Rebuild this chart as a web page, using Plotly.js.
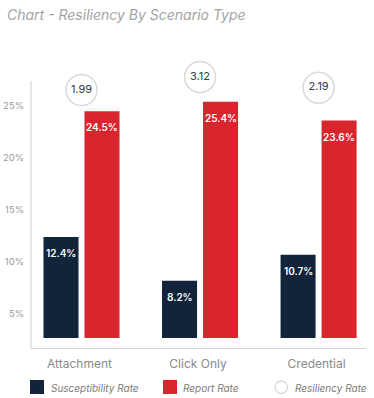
<!DOCTYPE html>
<html>
<head>
<meta charset="utf-8">
<script src="https://cdn.plot.ly/plotly-3.0.1.min.js"></script>
<style>
html,body{margin:0;padding:0;background:#fff;}
#chart{width:374px;height:398px;}
</style>
</head>
<body>
<div id="chart"></div>
<script>
var categories = ['Attachment', 'Click Only', 'Credential'];
var susceptibilityRate = [12.4, 8.2, 10.7];
var reportRate = [24.5, 25.4, 23.6];
var resiliencyRate = [1.99, 3.12, 2.19];
var yTickVals = [5, 10, 15, 20, 25];
var yTickText = ['5%', '10%', '15%', '20%', '25%'];
var seriesNames = ['Susceptibility Rate', 'Report Rate', 'Resiliency Rate'];

var NAVY = '#11243a', RED = '#d9262e', FONT = 'Inter, "Noto Sans", sans-serif';
var W = 374, H = 398, L = 31, R = 8, T = 55, B = 50;
var pw = W - L - R, ph = H - T - B;
function px2x(p){ return (p - L) / pw; }
function px2y(p){ return (H - B - p) / ph; }

var traces = [
  {type:'bar', name:seriesNames[0], x:categories, y:susceptibilityRate,
   marker:{color:NAVY}, hoverinfo:'none'},
  {type:'bar', name:seriesNames[1], x:categories, y:reportRate,
   marker:{color:RED}, hoverinfo:'none'},
  {type:'scatter', mode:'markers+text', name:seriesNames[2], x:categories, y:resiliencyRate,
   yaxis:'y2', cliponaxis:false,
   text:resiliencyRate.map(function(v){return v.toFixed(2);}),
   textposition:'middle center',
   textfont:{family:FONT, size:11, color:'#2f3b4a'},
   marker:{symbol:'circle', size:31, color:'#ffffff', line:{color:'#d9d9d9', width:1.5}},
   hoverinfo:'none'}
];

var annotations = [];
categories.forEach(function(c, i){
  annotations.push({x:c, y:susceptibilityRate[i], xref:'x', yref:'y', xshift:-20.5, yshift:-16,
    text:susceptibilityRate[i].toFixed(1)+'%', showarrow:false,
    font:{family:FONT, size:10, color:'#ffffff', weight:600}});
  annotations.push({x:c, y:reportRate[i], xref:'x', yref:'y', xshift:20.5, yshift:-16,
    text:reportRate[i].toFixed(1)+'%', showarrow:false,
    font:{family:FONT, size:10, color:'#ffffff', weight:600}});
});

// manual legend
var legendItems = [
  {name:seriesNames[0], kind:'rect', color:NAVY, sx:30, tx:49},
  {name:seriesNames[1], kind:'rect', color:RED, sx:163, tx:181},
  {name:seriesNames[2], kind:'circle', color:'#ffffff', sx:275, tx:293}
];
var shapes = [
  {type:'line', xref:'paper', yref:'paper', x0:0, x1:0, y0:0, y1:px2y(81),
   line:{color:'#d6d6d6', width:1.2}}
];
legendItems.forEach(function(it){
  if (it.kind === 'rect') {
    shapes.push({type:'rect', xref:'paper', yref:'paper',
      x0:px2x(it.sx), x1:px2x(it.sx+14), y0:px2y(380), y1:px2y(394),
      fillcolor:it.color, line:{width:0}});
  } else {
    shapes.push({type:'circle', xref:'paper', yref:'paper',
      x0:px2x(it.sx), x1:px2x(it.sx+12.5), y0:px2y(381), y1:px2y(393.5),
      fillcolor:'#ffffff', line:{color:'#d9d9d9', width:1.3}});
  }
  annotations.push({xref:'paper', yref:'paper', x:px2x(it.tx), y:px2y(387.5),
    xanchor:'left', yanchor:'middle', showarrow:false, text:'<i>'+it.name+'</i>',
    font:{family:FONT, size:10, color:'#7a7a7a'}});
});

var layout = {
  width:W, height:H,
  margin:{l:L, r:R, t:T, b:B, pad:0},
  paper_bgcolor:'#ffffff', plot_bgcolor:'#ffffff',
  font:{family:FONT},
  showlegend:false,
  title:{text:'<i>Chart - Resiliency By Scenario Type</i>', xref:'container', yref:'container',
    x:7/W, xanchor:'left', y:1-15/H, yanchor:'middle',
    font:{family:FONT, size:14, color:'#a3a3a3'}},
  barmode:'group', bargap:0.308, bargroupgap:0.146,
  xaxis:{type:'category', range:[-0.426, 2.40], anchor:'free', position:0,
    showline:true, linecolor:'#d6d6d6', linewidth:1.2, showgrid:false, zeroline:false,
    ticks:'', ticklabelshift:-2, ticklabelstandoff:4,
    tickfont:{family:FONT, size:12, color:'#8a8a8a'}},
  yaxis:{range:[2.69, 29.9], domain:[10/ph, 1], showline:false, showgrid:false, zeroline:false,
    tickvals:yTickVals, ticktext:yTickText, ticks:'', ticklabelstandoff:6,
    tickfont:{family:FONT, size:9.5, color:'#9a9a9a'}},
  yaxis2:{overlaying:'y', range:[-19.57, 5.033], visible:false, showgrid:false, zeroline:false},
  annotations:annotations,
  shapes:shapes
};

Plotly.newPlot('chart', traces, layout, {staticPlot:true, displayModeBar:false});
</script>
</body>
</html>
